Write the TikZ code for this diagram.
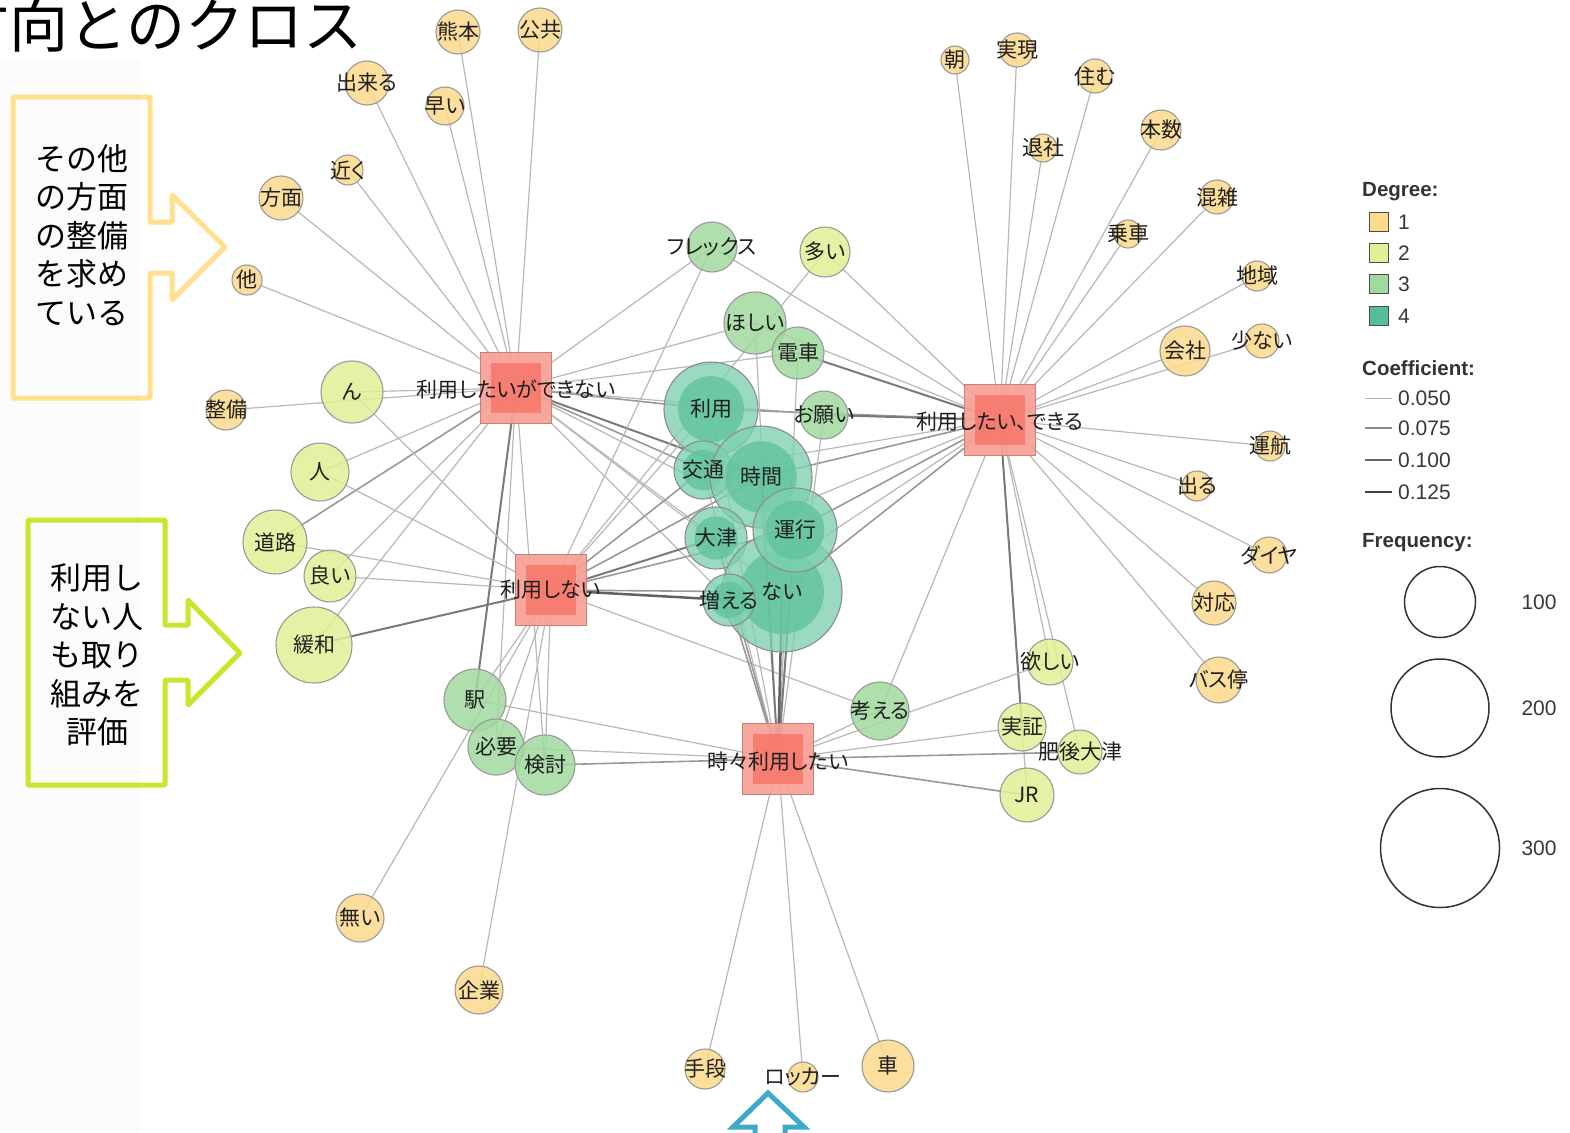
\documentclass[tikz,border=0pt]{standalone}
\usepackage{fontspec}
\setmainfont{Liberation Sans}
\newfontfamily\jp{Noto Sans CJK JP}
\newfontfamily\jpp{Noto Sans CJK JP}[RawFeature=+palt]
\usetikzlibrary{backgrounds}
\definecolor{cA}{RGB}{253,218,140}
\definecolor{cB}{RGB}{224,240,150}
\definecolor{cC}{RGB}{160,218,158}
\definecolor{cDo}{RGB}{125,208,175}
\definecolor{cDi}{RGB}{96,194,158}
\definecolor{cLD}{RGB}{85,190,150}
\definecolor{hubo}{RGB}{248,160,150}
\definecolor{hubi}{RGB}{247,122,110}
\definecolor{callY}{RGB}{255,224,140}
\definecolor{callG}{RGB}{200,230,45}
\definecolor{callC}{RGB}{60,170,200}
\tikzset{
  bub/.style={circle, inner sep=0pt, minimum size={2*#1}, draw=black!40, line width=1.1pt, fill opacity=0.85},
  d1/.style={bub=#1, fill=cA},
  d2/.style={bub=#1, fill=cB},
  d3/.style={bub=#1, fill=cC},
  d4/.style={bub=#1, fill=cDo, fill opacity=0.78, draw=black!45,
    path picture={\fill[cDi] (path picture bounding box.center) circle[radius={0.7*#1*1pt}];}},
  hub/.style={rectangle, inner sep=0pt, minimum size=71pt, fill=hubo, fill opacity=0.92, draw=hubo!80!black, line width=1pt,
    path picture={\fill[hubi] ([shift={(-25pt,-25pt)}]path picture bounding box.center) rectangle ([shift={(25pt,25pt)}]path picture bounding box.center);}},
  lbl/.style={font=\jpp\fontsize{21}{21}\selectfont, inner sep=0pt, text=black!88},
  e1/.style={draw=black!28, line width=1.2pt},
  e2/.style={draw=black!40, line width=1.6pt},
  e3/.style={draw=black!52, line width=2pt},
  e4/.style={draw=black!62, line width=2.5pt},
  callout/.style={line width=5pt, rounded corners=1pt},
  calltext/.style={align=center, font=\jp\fontsize{31}{38.5}\selectfont, inner sep=0pt},
  lhead/.style={anchor=west, font=\bfseries\fontsize{20.5}{20.5}\selectfont, text=black!80, inner sep=0pt},
  lnum/.style={font=\fontsize{21}{21}\selectfont, text=black!78, inner sep=0pt},
  legsq/.style={rectangle, draw=black!70, line width=1.2pt, minimum size=19pt, inner sep=0pt},
  freq/.style={circle, draw=black!80, line width=1.5pt, inner sep=0pt},
}
\def\listA{kumamoto/458/32/22/熊本, koukyou/540/30/22/公共, dekiru/367/83/22/出来る, hayai/445/106/19/早い,
 chikaku/348/170/15/近く, houmen/281/198/22/方面, hoka/247/280/15/他, seibi/226/410/20/整備,
 asa/955/60/14/朝, jitsugen/1017/50/17/実現, sumu/1095/76/17/住む, taisha/1043/148/14/退社,
 honsuu/1161/130/20/本数, konzatsu/1217/197/17/混雑, jousha/1128/234/14/乗車, chiiki/1257/276/15/地域,
 kaisha/1185/351/25/会社, sukunai/1262/341/17/少ない, unkoutwo/1270/446/15/運航, deru/1197/486/15/出る,
 daiya/1269/555/18/ダイヤ, taiou/1214/603/22/対応, basutei/1219/680/23/バス停, naione/360/918/24/無い,
 kigyou/479/990/24/企業, shudan/705/1069/20/手段, locker/803/1077/15/ロッカー, kuruma/888/1066/26/車}
\def\listB{ooi/825/252/25/多い, nn/352/392/31/ん, hito/320/472/29/人, douro/275/542/32/道路,
 yoi/330/576/26/良い, kanwa/314/645/38/緩和, hoshiitwo/1050/662/23/欲しい, jisshou/1022/727/24/実証,
 higo/1080/752/22/肥後大津, jr/1027/795/27/JR}
\def\listC{flex/712/247/25/フレックス, hoshii/755/323/31/ほしい, densha/798/353/26/電車, onegai/824/415/24/お願い,
 kangaeru/880/711/29/考える, eki/475/700/31/駅, hitsuyou/496/747/28/必要, kentou/545/765/30/検討}
\def\listD{riyou/711/409/47/利用, koutsu/703/470/29/交通, jikan/761/477/51/時間, otsu/716/538/31/大津,
 nai/782/592/60/ない, unkou/795/530/42/運行, fueru/729/600/26/増える}
\begin{document}
\begin{tikzpicture}[x=1pt,y=-1pt]
\useasboundingbox (0,0) rectangle (1570,1132);
% title (cut at the page edge, as in the reference)
\begin{scope}
\clip (0,0) rectangle (1570,1132);
\node[anchor=base east, inner sep=0pt, font=\jp\fontsize{59}{59}\selectfont] (title) at (363,48) {方向とのクロス};
\draw[callC, line width=5pt, line join=miter] (755,1140) -- (755,1127) -- (733,1127) -- (768,1093) -- (804,1127) -- (785,1127) -- (785,1140);
\end{scope}
% callouts
\draw[callout, callY] (13,97) -- (150,97) -- (150,222) -- (172,222) -- (172,195) -- (225,247) -- (172,300) -- (172,273) -- (150,273) -- (150,398) -- (13,398) -- cycle;
\node[calltext] (calloutone) at (82,235) {その他\\の方面\\の整備\\を求め\\ている};
\draw[callout, callG] (28,520) -- (165,520) -- (165,625) -- (188,625) -- (188,600) -- (240,653) -- (188,705) -- (188,680) -- (165,680) -- (165,785) -- (28,785) -- cycle;
\node[calltext] (callouttwo) at (97,655) {利用し\\ない人\\も取り\\組みを\\評価};
% hubs
\node[hub] (A) at (516,388) {};
\node[hub] (B) at (1000,420) {};
\node[hub] (C) at (551,590) {};
\node[hub] (D) at (778,759) {};
% word nodes
\foreach \n/\x/\y/\r/\t in \listA {\node[d1=\r] (\n) at (\x,\y) {};}
\foreach \n/\x/\y/\r/\t in \listB {\node[d2=\r] (\n) at (\x,\y) {};}
\foreach \n/\x/\y/\r/\t in \listC {\node[d3=\r] (\n) at (\x,\y) {};}
\foreach \n/\x/\y/\r/\t in \listD {\node[d4=\r] (\n) at (\x,\y) {};}
% labels on top
\foreach \n/\x/\y/\r/\t in \listA {\node[lbl] (\n-t) at (\n) {\t};}
\foreach \n/\x/\y/\r/\t in \listB {\node[lbl] (\n-t) at (\n) {\t};}
\foreach \n/\x/\y/\r/\t in \listC {\node[lbl] (\n-t) at (\n) {\t};}
\foreach \n/\x/\y/\r/\t in \listD {\node[lbl] (\n-t) at (\n) {\t};}
\node[lbl] (A-t) at ([yshift=-2pt]A.center) {利用したいができない};
\node[lbl] (B-t) at ([yshift=-2pt]B.center) {利用したい、できる};
\node[lbl] (C-t) at (C.center) {利用しない};
\node[lbl] (D-t) at ([yshift=-3pt]D.center) {時々利用したい};
% edges
\begin{scope}[on background layer]
\fill[white] (0,0) rectangle (1570,1132);
\fill[black!1.5] (0,60) rectangle (140,1132);
\foreach \b in {kumamoto,koukyou,dekiru,hayai,chikaku,houmen,hoka,seibi,nn,hito,yoi,kanwa,flex,hoshii,densha,onegai,hitsuyou,kentou,otsu,unkou,fueru,nai}
  \draw[e1] (A.center) -- (\b.center);
\foreach \b in {douro,koutsu,riyou} \draw[e2] (A.center) -- (\b.center);
\foreach \b in {eki,jikan} \draw[e3] (A.center) -- (\b.center);
\foreach \b in {asa,jitsugen,sumu,taisha,honsuu,konzatsu,jousha,chiiki,kaisha,sukunai,unkoutwo,deru,daiya,taiou,basutei,ooi,flex,hoshii,kangaeru,hoshiitwo,higo,jr,koutsu,otsu,fueru}
  \draw[e1] (B.center) -- (\b.center);
\foreach \b in {riyou,jikan,unkou,nai} \draw[e2] (B.center) -- (\b.center);
\foreach \b in {densha,onegai,jisshou} \draw[e3] (B.center) -- (\b.center);
\foreach \b in {naione,kigyou,nn,hito,douro,yoi,ooi,flex,kangaeru,eki,hitsuyou,kentou,riyou}
  \draw[e1] (C.center) -- (\b.center);
\foreach \b in {koutsu,jikan,unkou,nai} \draw[e2] (C.center) -- (\b.center);
\foreach \b in {kanwa,otsu} \draw[e3] (C.center) -- (\b.center);
\draw[e4] (C.center) -- (fueru.center);
\foreach \b in {shudan,locker,kuruma,hoshii,densha,onegai,kangaeru,hoshiitwo,jisshou,eki,hitsuyou,riyou,koutsu}
  \draw[e1] (D.center) -- (\b.center);
\foreach \b in {kentou,higo,jr,otsu,fueru} \draw[e2] (D.center) -- (\b.center);
\foreach \b in {jikan,unkou} \draw[e3] (D.center) -- (\b.center);
\draw[e4] (D.center) -- (nai.center);
\end{scope}
% legend
\node[lhead] (lgdeg) at (1362,192) {Degree:};
\node[legsq, fill=cA] (sqone) at (1379,222) {};
\node[legsq, fill=cB] (sqtwo) at (1379,253) {};
\node[legsq, fill=cC] (sqthree) at (1379,284) {};
\node[legsq, fill=cLD] (sqfour) at (1379,316) {};
\node[lnum, anchor=west] (sqonet) at (1398,222) {1};
\node[lnum, anchor=west] (sqtwot) at (1398,253) {2};
\node[lnum, anchor=west] (sqthreet) at (1398,284) {3};
\node[lnum, anchor=west] (sqfourt) at (1398,316) {4};
\node[lhead] (lgcoef) at (1362,368) {Coefficient:};
\draw[black!30, line width=1pt] (1365,398) -- (1392,398);
\draw[black!45, line width=1.5pt] (1365,428) -- (1392,428);
\draw[black!60, line width=2pt] (1365,460) -- (1392,460);
\draw[black!75, line width=2.6pt] (1365,492) -- (1392,492);
\node[lnum, anchor=west] (cfone) at (1398,398) {0.050};
\node[lnum, anchor=west] (cftwo) at (1398,428) {0.075};
\node[lnum, anchor=west] (cfthree) at (1398,460) {0.100};
\node[lnum, anchor=west] (cffour) at (1398,492) {0.125};
\node[lhead] (lgfreq) at (1362,543) {Frequency:};
\node[freq, minimum size=71pt] (fqone) at (1440,602) {};
\node[freq, minimum size=98pt] (fqtwo) at (1440,708) {};
\node[freq, minimum size=119pt] (fqthree) at (1440,848) {};
\node[lnum] (fqonet) at (1539,602) {100};
\node[lnum] (fqtwot) at (1539,708) {200};
\node[lnum] (fqthreet) at (1539,848) {300};
\end{tikzpicture}
\end{document}
